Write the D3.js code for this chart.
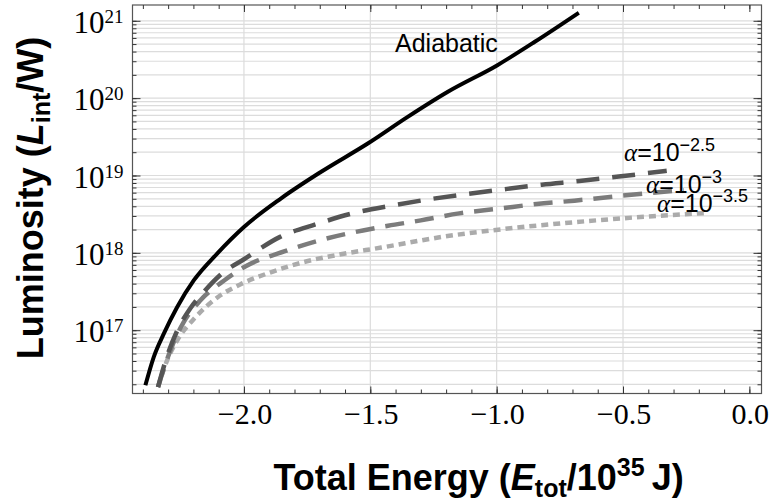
<!DOCTYPE html>
<html>
<head>
<meta charset="utf-8">
<script src="https://cdn.jsdelivr.net/npm/d3@7"></script>
<style>
  body { margin: 0; background: #fff; }
  svg { display: block; }
</style>
</head>
<body>
<div id="chart-container"></div>
<script>
// values: energy in 10^35 J, luminosity in W
const energyAdiabatic = [-2.390, -2.357, -2.317, -2.264, -2.198, -2.106, -2.000, -1.854, -1.696, -1.510, -1.352, -1.193, -0.997, -0.849, -0.675];
const lumAdiabatic = [1.94e16, 4.50e16, 9.04e16, 2.00e17, 4.43e17, 9.79e17, 2.16e18, 5.04e18, 1.11e19, 2.59e19, 5.73e19, 1.21e20, 2.67e20, 5.35e20, 1.27e21];

const energyAlpha25 = [-2.340, -2.307, -2.267, -2.212, -2.160, -2.081, -2.000, -1.857, -1.715, -1.570, -1.418, -1.279, -1.122, -0.969, -0.821, -0.672, -0.517, -0.327];
const lumAlpha25 = [1.84e16, 4.32e16, 9.40e16, 1.92e17, 3.09e17, 5.61e17, 8.26e17, 1.61e18, 2.34e18, 3.24e18, 4.07e18, 4.86e18, 5.73e18, 6.65e18, 7.60e18, 8.49e18, 9.68e18, 1.15e19];

const energyAlpha30 = [-2.340, -2.319, -2.283, -2.239, -2.172, -2.077, -1.993, -1.838, -1.684, -1.529, -1.430, -1.300, -1.148, -0.993, -0.842, -0.692, -0.541, -0.387, -0.260];
const lumAlpha30 = [1.84e16, 3.03e16, 6.38e16, 1.26e17, 2.44e17, 4.43e17, 6.71e17, 1.05e18, 1.50e18, 1.95e18, 2.24e18, 2.63e18, 3.24e18, 3.72e18, 4.28e18, 4.73e18, 5.33e18, 5.97e18, 6.46e18];

const energyAlpha35 = [-2.340, -2.304, -2.264, -2.192, -2.104, -2.013, -1.894, -1.751, -1.616, -1.457, -1.215, -0.973, -0.735, -0.493, -0.172];
const lumAlpha35 = [1.84e16, 4.08e16, 7.40e16, 1.47e17, 2.67e17, 3.93e17, 5.61e17, 7.78e17, 9.59e17, 1.17e18, 1.61e18, 2.03e18, 2.42e18, 2.81e18, 3.27e18];

const xMajorTicks = [-2.0, -1.5, -1.0, -0.5, 0.0];
const yExponents = [17, 18, 19, 20, 21];
const alphaExponents = ["\u22122.5", "\u22123", "\u22123.5"];

const width = 769, height = 502;
const marginLeft = 132.5, marginRight = 7.5, marginTop = 5, marginBottom = 108.5;
const graphWidth = width - marginLeft - marginRight;
const graphHeight = height - marginTop - marginBottom;

const svg = d3.select("#chart-container")
  .append("svg")
  .attr("width", width)
  .attr("height", height);

const g = svg.append("g")
  .attr("transform", `translate(${marginLeft},${marginTop})`);

const x = d3.scaleLinear().domain([-2.441, 0.048]).range([0, graphWidth]);
const y = d3.scaleLog().domain([1.52e16, 1.6e21]).range([graphHeight, 0]);

// minor values: k * 10^n
const yMinor = [];
for (let n = 16; n <= 21; n++) {
  for (let k = 1; k <= 9; k++) {
    const v = k * Math.pow(10, n);
    if (v >= y.domain()[0] && v <= y.domain()[1]) yMinor.push(v);
  }
}
const xMinor = d3.range(-24, 1).map(i => i / 10);

// grid
g.append("g").selectAll("line")
  .data(yMinor)
  .enter().append("line")
  .attr("x1", 0).attr("x2", graphWidth)
  .attr("y1", d => y(d)).attr("y2", d => y(d))
  .attr("stroke", "#dcdcdc")
  .attr("stroke-width", 1.2);

g.append("g").selectAll("line")
  .data(xMajorTicks.slice(0, 4))
  .enter().append("line")
  .attr("x1", d => x(d)).attr("x2", d => x(d))
  .attr("y1", 0).attr("y2", graphHeight)
  .attr("stroke", "#dcdcdc")
  .attr("stroke-width", 1.2);

// frame
g.append("rect")
  .attr("width", graphWidth)
  .attr("height", graphHeight)
  .attr("fill", "none")
  .attr("stroke", "#555")
  .attr("stroke-width", 1.2);

// ticks, all pointing inside
function tickAxis(axis, transform) {
  const a = g.append("g").attr("transform", transform).call(axis);
  a.select(".domain").remove();
  a.selectAll("text").remove();
  a.selectAll("line").attr("stroke", "#333").attr("stroke-width", 1);
}
tickAxis(d3.axisBottom(x).tickValues(xMajorTicks).tickSize(-7), `translate(0,${graphHeight})`);
tickAxis(d3.axisBottom(x).tickValues(xMinor).tickSize(-4), `translate(0,${graphHeight})`);
tickAxis(d3.axisTop(x).tickValues(xMajorTicks).tickSize(-7), "translate(0,0)");
tickAxis(d3.axisTop(x).tickValues(xMinor).tickSize(-4), "translate(0,0)");
const yMajorVals = yExponents.map(e => Math.pow(10, e));
tickAxis(d3.axisLeft(y).tickValues(yMajorVals).tickSize(-8), "translate(0,0)");
tickAxis(d3.axisLeft(y).tickValues(yMinor).tickSize(-4), "translate(0,0)");
tickAxis(d3.axisRight(y).tickValues(yMajorVals).tickSize(-8), `translate(${graphWidth},0)`);
tickAxis(d3.axisRight(y).tickValues(yMinor).tickSize(-4), `translate(${graphWidth},0)`);

// tick labels
const fmt = d3.format(".1f");
g.append("g").selectAll("text")
  .data(xMajorTicks)
  .enter().append("text")
  .attr("x", d => x(d) + 1)
  .attr("y", graphHeight + 30)
  .attr("text-anchor", "middle")
  .style("font-family", "'Liberation Serif', 'Times New Roman', serif")
  .style("font-size", "30px")
  .text(d => fmt(d));

const yLab = g.append("g").selectAll("text")
  .data(yExponents)
  .enter().append("text")
  .attr("x", -9)
  .attr("y", d => y(Math.pow(10, d)) + 12)
  .attr("text-anchor", "end")
  .style("font-family", "'Liberation Serif', 'Times New Roman', serif")
  .style("font-size", "31px");
yLab.append("tspan").text("10");
yLab.append("tspan").attr("dy", -10).style("font-size", "19px").text(d => d);

// curves
const line = d3.line()
  .x(d => x(d[0]))
  .y(d => y(d[1]))
  .curve(d3.curveMonotoneX);

const series = [
  { e: energyAlpha35, l: lumAlpha35, color: "#ababab", dash: "7,5", w: 4.5 },
  { e: energyAlpha30, l: lumAlpha30, color: "#7c7c7c", dash: "19,11", w: 4.5 },
  { e: energyAlpha25, l: lumAlpha25, color: "#555555", dash: "23,13", w: 4.5 },
  { e: energyAdiabatic, l: lumAdiabatic, color: "#000", dash: null, w: 4 }
];

g.selectAll(".curve")
  .data(series)
  .enter().append("path")
  .attr("class", "curve")
  .attr("fill", "none")
  .attr("stroke", d => d.color)
  .attr("stroke-width", d => d.w)
  .attr("stroke-dasharray", d => d.dash)
  .attr("d", d => line(d.e.map((v, i) => [v, d.l[i]])));

// curve labels
svg.append("text")
  .attr("x", 395)
  .attr("y", 52)
  .style("font-family", "'Liberation Sans', Arial, sans-serif")
  .style("font-size", "25px")
  .text("Adiabatic");

const alphaPos = [[624, 161], [646, 192.5], [657, 212]];
alphaExponents.forEach((ex, i) => {
  const t = svg.append("text")
    .attr("x", alphaPos[i][0])
    .attr("y", alphaPos[i][1])
    .style("font-family", "'Liberation Sans', Arial, sans-serif")
    .style("font-size", "25px");
  t.append("tspan")
    .style("font-family", "'Liberation Serif', 'Times New Roman', serif")
    .style("font-style", "italic")
    .text("\u03b1");
  t.append("tspan").text("=10");
  t.append("tspan").attr("dy", -10).style("font-size", "18px").text(ex);
});

// axis titles
const xt = svg.append("text")
  .attr("x", marginLeft + x(-1.0) - 18)
  .attr("y", 490)
  .attr("text-anchor", "middle")
  .style("font-family", "'Liberation Sans', Arial, sans-serif")
  .style("font-weight", "bold")
  .style("font-size", "36px");
xt.append("tspan").text("Total Energy (");
xt.append("tspan").style("font-style", "italic").text("E");
xt.append("tspan").attr("dy", 7).style("font-size", "25px").text("tot");
xt.append("tspan").attr("dy", -7).text("/10");
xt.append("tspan").attr("dy", -14).style("font-size", "25px").text("35");
xt.append("tspan").attr("dy", 14).text("\u2009J)");

const yt = svg.append("text")
  .attr("transform", `translate(43,198) rotate(-90)`)
  .attr("text-anchor", "middle")
  .style("font-family", "'Liberation Sans', Arial, sans-serif")
  .style("font-weight", "bold")
  .style("font-size", "36px");
yt.append("tspan").text("Luminosity (");
yt.append("tspan").style("font-style", "italic").text("L");
yt.append("tspan").attr("dy", 7).style("font-size", "25px").text("int");
yt.append("tspan").attr("dy", -7).text("/W)");
</script>
</body>
</html>
